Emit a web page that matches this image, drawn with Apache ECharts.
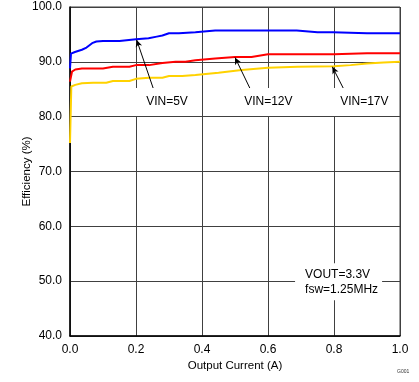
<!DOCTYPE html>
<html>
<head>
<meta charset="utf-8">
<script src="https://cdn.jsdelivr.net/npm/echarts@6/dist/echarts.min.js"></script>
<style>
html,body{margin:0;padding:0;background:#fff;}
#chart{width:419px;height:382px;}
</style>
</head>
<body>
<div id="chart"></div>
<script>
// ---- data ----
const xTicks = [0, 0.2, 0.4, 0.6, 0.8, 1.0];
const yTicks = [40, 50, 60, 70, 80, 90, 100];

const current5V = [0, 0.003, 0.015, 0.036, 0.05, 0.067, 0.08, 0.1, 0.15, 0.2, 0.238, 0.263, 0.28, 0.3, 0.33, 0.38, 0.44, 0.5, 0.6, 0.687, 0.75, 0.797, 0.9, 1.0];
const eff5V     = [88.8, 91.5, 91.8, 92.2, 92.6, 93.4, 93.7, 93.8, 93.8, 94.1, 94.3, 94.6, 94.8, 95.2, 95.2, 95.4, 95.7, 95.7, 95.7, 95.7, 95.4, 95.4, 95.2, 95.2];

const current12V = [0, 0.006, 0.016, 0.036, 0.07, 0.1, 0.13, 0.18, 0.2, 0.24, 0.28, 0.32, 0.35, 0.38, 0.44, 0.5, 0.55, 0.6, 0.7, 0.8, 0.9, 1.0];
const eff12V     = [86.4, 88.2, 88.6, 88.8, 88.8, 88.8, 89.1, 89.1, 89.4, 89.4, 89.8, 90.0, 90.0, 90.3, 90.6, 90.9, 90.9, 91.4, 91.4, 91.4, 91.55, 91.55];

const current17V = [0, 0.004, 0.016, 0.036, 0.07, 0.11, 0.13, 0.18, 0.2, 0.24, 0.28, 0.3, 0.34, 0.38, 0.45, 0.52, 0.6, 0.69, 0.8, 0.85, 0.9, 0.95, 1.0];
const eff17V     = [75.2, 85.5, 85.8, 86.1, 86.2, 86.2, 86.5, 86.5, 86.9, 87.1, 87.1, 87.4, 87.4, 87.6, 88.0, 88.5, 88.9, 89.1, 89.2, 89.4, 89.7, 89.9, 90.0];

const seriesNames = ['VIN=5V', 'VIN=12V', 'VIN=17V'];
// annotation anchors (data coordinates)
const arrowTips  = [[0.202, 94.0], [0.50, 90.8], [0.795, 89.1]];
const arrowTails = [[0.252, 85.2], [0.545, 85.2], [0.828, 85.2]];
const labelPos   = [[0.294, 82.67], [0.601, 82.67], [0.892, 82.67]];
const noteText = ['VOUT=3.3V', 'fsw=1.25MHz'];
const notePos = [0.682, 49.9];

const colors = ['#0000FF', '#FF0000', '#FFD200'];
const labelPad = [[9, 13, 5, 13], [9, 8, 5, 8], [9, 8, 5, 8]];

function pairs(xs, ys) { return xs.map((x, i) => [x, ys[i]]); }
const dataSets = [pairs(current5V, eff5V), pairs(current12V, eff12V), pairs(current17V, eff17V)];

const font = 'Arial, "Liberation Sans", sans-serif';

const series = dataSets.map((d, i) => ({
  type: 'line',
  name: seriesNames[i],
  data: d,
  showSymbol: false,
  symbol: 'none',
  lineStyle: { color: colors[i], width: 2 },
  z: 3,
  markLine: {
    silent: true,
    symbol: ['none', 'arrow'],
    symbolSize: [5, 7],
    lineStyle: { color: '#000', width: 1, type: 'solid' },
    label: { show: false },
    data: [[{ coord: arrowTails[i] }, { coord: arrowTips[i] }]]
  },
  markPoint: {
    silent: true,
    symbol: 'rect',
    symbolSize: 0,
    label: {
      show: true,
      position: 'inside',
      formatter: seriesNames[i],
      color: '#000',
      fontFamily: font,
      fontSize: 12,
      lineHeight: 14,
      backgroundColor: '#fff',
      padding: labelPad[i]
    },
    data: [{ coord: labelPos[i] }]
  }
}));

series.push({
  type: 'line',
  data: [],
  markPoint: {
    silent: true,
    symbol: 'rect',
    symbolSize: 0,
    label: {
      show: true,
      position: 'inside',
      align: 'left',
      verticalAlign: 'middle',
      formatter: noteText.join('\n'),
      color: '#000',
      fontFamily: font,
      fontSize: 12,
      lineHeight: 15,
      backgroundColor: '#fff',
      padding: [4, 4, 3, 10]
    },
    data: [{ coord: notePos }]
  }
});

const chart = echarts.init(document.getElementById('chart'), null, { renderer: 'canvas' });
chart.setOption({
  animation: false,
  backgroundColor: '#fff',
  grid: { left: 70, right: 19, top: 7, bottom: 46, show: true, borderColor: '#404040', borderWidth: 1 },
  xAxis: {
    type: 'value',
    min: xTicks[0], max: xTicks[xTicks.length - 1], interval: 0.2,
    name: 'Output Current (A)', nameLocation: 'middle', nameGap: 24,
    nameMoveOverlap: false,
    nameTextStyle: { color: '#000', fontFamily: font, fontSize: 11.5 },
    axisLine: { show: true, lineStyle: { color: '#000', width: 1.5 } },
    axisTick: { show: false },
    axisLabel: { color: '#000', fontFamily: font, fontSize: 12, margin: 8, formatter: v => v.toFixed(1) },
    splitLine: { show: true, lineStyle: { color: '#404040', width: 1 } }
  },
  yAxis: {
    type: 'value',
    min: yTicks[0], max: yTicks[yTicks.length - 1], interval: 10,
    name: 'Efficiency (%)', nameLocation: 'middle', nameGap: 37,
    nameMoveOverlap: false,
    nameTextStyle: { color: '#000', fontFamily: font, fontSize: 11.5 },
    axisLine: { show: true, lineStyle: { color: '#000', width: 1.5 } },
    axisTick: { show: false },
    axisLabel: { color: '#000', fontFamily: font, fontSize: 12, margin: 8, formatter: v => v.toFixed(1) },
    splitLine: { show: true, lineStyle: { color: '#404040', width: 1 } }
  },
  graphic: [{
    type: 'text', left: 397, top: 369,
    style: { text: 'G001', fontSize: 5, fill: '#333', fontFamily: font }
  }],
  series: series
});
</script>
</body>
</html>
